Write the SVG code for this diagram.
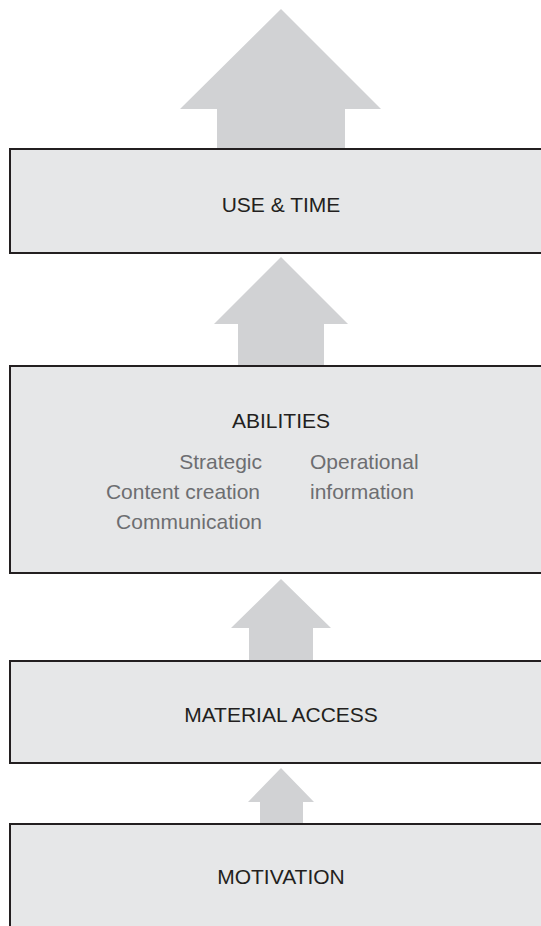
<svg xmlns="http://www.w3.org/2000/svg" width="541" height="926" viewBox="0 0 541 926">
<style>
.box{fill:#e6e7e8;stroke:#231f20;stroke-width:2}
.arr{fill:#d1d2d4}
.t{font-family:"Liberation Sans",Arial,sans-serif;font-size:21px;fill:#231f20;text-anchor:middle}
.s{font-family:"Liberation Sans",Arial,sans-serif;font-size:21px;fill:#6d6e71}
</style>
<rect width="541" height="926" fill="#ffffff"/>
<g id="connectors">
<polygon class="arr" points="281,9 381,109 345,109 345,149 217,149 217,109 180,109"/>
<polygon class="arr" points="281,257 348,324 324,324 324,366 238,366 238,324 214,324"/>
<polygon class="arr" points="281,579 331,628 313,628 313,661 249,661 249,628 231,628"/>
<polygon class="arr" points="281,768 314,802 303,802 303,824 260,824 260,802 248,802"/>
</g>
<g id="use-time">
<rect class="box" x="10" y="149" width="560" height="104"/>
<text class="t" x="281" y="212">USE &amp; TIME</text>
</g>
<g id="abilities">
<rect class="box" x="10" y="366" width="560" height="207"/>
<text class="t" x="281" y="428">ABILITIES</text>
<text class="s" x="262" y="469" text-anchor="end">Strategic</text>
<text class="s" x="260" y="499" text-anchor="end">Content creation</text>
<text class="s" x="262" y="529" text-anchor="end">Communication</text>
<text class="s" x="310" y="469">Operational</text>
<text class="s" x="310" y="499">information</text>
</g>
<g id="material-access">
<rect class="box" x="10" y="661" width="560" height="102"/>
<text class="t" x="281" y="722">MATERIAL ACCESS</text>
</g>
<g id="motivation">
<rect class="box" x="10" y="824" width="560" height="140"/>
<text class="t" x="281" y="884">MOTIVATION</text>
</g>
</svg>
